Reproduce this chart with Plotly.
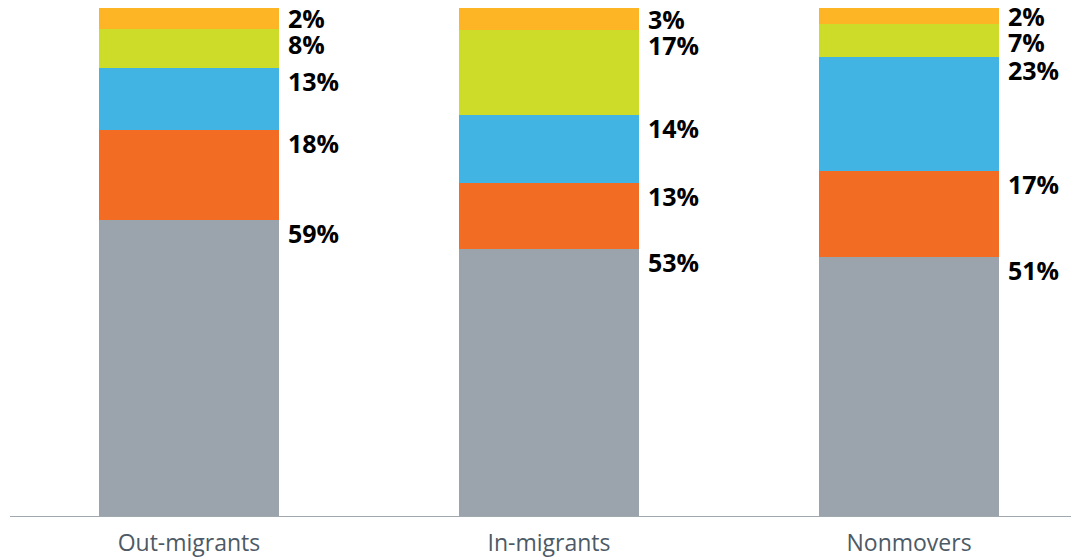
import plotly.graph_objects as go

categories = ["Out-migrants", "In-migrants", "Nonmovers"]
# segment heights (share of bar, %), bottom to top
gray_vals = [58.3, 52.6, 51.0]
orange_vals = [17.7, 12.9, 16.9]
blue_vals = [12.2, 13.5, 22.4]
green_vals = [7.7, 16.7, 6.6]
yellow_vals = [4.1, 4.3, 3.1]
# printed labels
gray_labels = ["59%", "53%", "51%"]
orange_labels = ["18%", "13%", "17%"]
blue_labels = ["13%", "14%", "23%"]
green_labels = ["8%", "17%", "7%"]
yellow_labels = ["2%", "3%", "2%"]

series = [
    (gray_vals, gray_labels, "#9BA4AD"),
    (orange_vals, orange_labels, "#F26D23"),
    (blue_vals, blue_labels, "#42B4E4"),
    (green_vals, green_labels, "#CDDC29"),
    (yellow_vals, yellow_labels, "#FDB526"),
]

# the page body adds an 8px margin, so the figure is sized to fit the window
W, H = 1071, 550
mt, mb, ml, mr = 0, 42, 2, 0
plot_h = H - mt - mb
px_per_unit = plot_h / 100.0

fig = go.Figure()
for vals, labels, color in series:
    fig.add_trace(go.Bar(x=list(range(len(categories))), y=vals, marker=dict(color=color, line=dict(width=0)),
                         width=0.5, hoverinfo="skip"))

annotations = []
for i in range(len(categories)):
    bottoms = 0.0
    tops = []
    for vals, labels, color in series:
        tops.append((bottoms + vals[i], vals[i], labels[i]))
        bottoms += vals[i]
    # place labels from top down, offset below segment top, avoid overlaps
    prev_px = None
    for top, h, lab in reversed(tops):
        top_px = (100 - top) * px_per_unit
        y_px = top_px + min(13, h * px_per_unit / 2)
        if prev_px is not None:
            y_px = max(y_px, prev_px + 26)
        prev_px = y_px
        annotations.append(dict(x=i + 0.25, y=top, xref="x", yref="y", text=lab, showarrow=False,
                                xanchor="left", yanchor="middle", xshift=7, yshift=-(y_px - top_px),
                                font=dict(family="Open Sans", size=25, color="#000000", weight="bold")))

fig.update_layout(
    barmode="stack",
    width=W, height=H,
    margin=dict(l=ml, r=mr, t=mt, b=mb),
    paper_bgcolor="white", plot_bgcolor="white",
    showlegend=False,
    annotations=annotations,
    xaxis=dict(range=[-0.497, 2.472], tickmode="array", tickvals=list(range(len(categories))),
               ticktext=categories, showgrid=False, zeroline=False, showline=True,
               linecolor="#A0A8B0", linewidth=1, ticks="outside", ticklen=6, tickcolor="rgba(0,0,0,0)",
               tickfont=dict(family="Open Sans", size=23, color="#4D5A66")),
    yaxis=dict(range=[0, 100], visible=False, showgrid=False, zeroline=False),
)

fig.write_html("out.html")
